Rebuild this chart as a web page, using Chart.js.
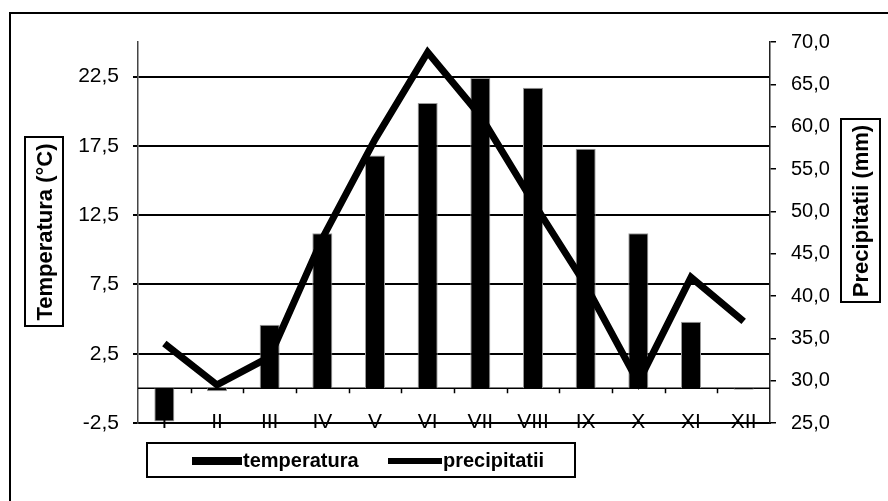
<!DOCTYPE html>
<html>
<head>
<meta charset="utf-8">
<script src="https://cdn.jsdelivr.net/npm/chart.js@4/dist/chart.umd.min.js"></script>
<style>
html,body{margin:0;padding:0;background:#fff;}
#wrap{width:888px;height:501px;position:relative;}
</style>
</head>
<body>
<div id="wrap"><canvas id="c" width="888" height="501"></canvas></div>
<script>
const categories = ['I','II','III','IV','V','VI','VII','VIII','IX','X','XI','XII'];
const temperatura = [-2.4, -0.2, 4.6, 11.2, 16.8, 20.6, 22.4, 21.7, 17.3, 11.2, 4.8, -0.1];
const precipitatii = [34.4, 29.5, 32.8, 46.8, 58.5, 68.8, 61.3, 51.1, 41.3, 29.8, 42.2, 37.0];
const tempTicks = [-2.5, 2.5, 7.5, 12.5, 17.5, 22.5];
const precTicks = [25, 30, 35, 40, 45, 50, 55, 60, 65, 70];
const seriesNames = ['temperatura', 'precipitatii'];
const axisTitles = ['Temperatura (°C)', 'Precipitatii (mm)'];

const FONT = "'Liberation Sans', Arial, sans-serif";
Chart.defaults.font.family = FONT;
Chart.defaults.color = '#000';

const fmt = v => Number(v).toFixed(1).replace('.', ',');

const decor = {
  id: 'decor',
  beforeDraw(chart) {
    const ctx = chart.ctx;
    ctx.save();
    ctx.fillStyle = '#fff';
    ctx.fillRect(0, 0, chart.width, chart.height);
    ctx.strokeStyle = '#000';
    ctx.lineWidth = 2;
    ctx.strokeRect(10, 13, 880, 500);
    ctx.restore();
  },
  beforeDatasetsDraw(chart) {
    const ctx = chart.ctx;
    const x = chart.scales.x, y = chart.scales.y;
    const y0 = y.getPixelForValue(0);
    ctx.save();
    ctx.strokeStyle = '#000';
    ctx.lineWidth = 1.5;
    ctx.beginPath();
    ctx.moveTo(x.left, y0);
    ctx.lineTo(x.right, y0);
    for (let i = 1; i < categories.length; i++) {
      const px = Math.round(x.getPixelForValue(i - 0.5)) + 0.5;
      ctx.moveTo(px, y0);
      ctx.lineTo(px, y0 + 5);
    }
    ctx.stroke();
    ctx.restore();
  },
  afterDraw(chart) {
    const ctx = chart.ctx;
    const x = chart.scales.x;
    ctx.save();
    // category labels, drawn across the bottom border as in the original
    ctx.font = "21px " + FONT;
    ctx.fillStyle = '#000';
    ctx.textAlign = 'center';
    ctx.textBaseline = 'alphabetic';
    categories.forEach((c, i) => {
      ctx.fillText(c, x.getPixelForValue(i), x.top + 5);
    });
    // axis titles
    const drawTitle = (text, cx, cy, bx, by, bw, bh) => {
      ctx.strokeStyle = '#000';
      ctx.lineWidth = 2;
      ctx.strokeRect(bx, by, bw, bh);
      ctx.save();
      ctx.translate(cx, cy);
      ctx.rotate(-Math.PI / 2);
      ctx.font = "bold 22px " + FONT;
      ctx.fillStyle = '#000';
      ctx.textAlign = 'center';
      ctx.textBaseline = 'middle';
      ctx.fillText(text, 0, 1);
      ctx.restore();
    };
    drawTitle(axisTitles[0], 45, 232, 25, 137, 38, 189);
    drawTitle(axisTitles[1], 861, 211, 841, 119, 39, 183);

    // legend
    ctx.strokeStyle = '#000';
    ctx.lineWidth = 2;
    ctx.strokeRect(147, 443, 428, 34);
    ctx.fillStyle = '#000';
    ctx.fillRect(192, 457, 50, 8);
    ctx.beginPath();
    ctx.lineWidth = 6;
    ctx.moveTo(388, 461);
    ctx.lineTo(442, 461);
    ctx.stroke();
    ctx.font = "bold 20px " + FONT;
    ctx.textAlign = 'left';
    ctx.textBaseline = 'middle';
    const barDs = chart.data.datasets.find(d => d.type === 'bar');
    const lineDs = chart.data.datasets.find(d => d.type === 'line');
    ctx.fillText(barDs.label, 243, 461);
    ctx.fillText(lineDs.label, 443, 461);
    ctx.restore();
  }
};

new Chart(document.getElementById('c'), {
  data: {
    labels: categories,
    datasets: [
      {
        type: 'line',
        label: seriesNames[1],
        data: precipitatii,
        yAxisID: 'y1',
        borderColor: '#000',
        borderWidth: 7,
        pointRadius: 0,
        tension: 0,
        borderJoinStyle: 'miter',
        order: 0
      },
      {
        type: 'bar',
        label: seriesNames[0],
        data: temperatura,
        yAxisID: 'y',
        backgroundColor: '#000',
        borderColor: '#9a9a9a',
        borderWidth: 1,
        categoryPercentage: 1,
        barPercentage: 0.38,
        order: 1
      }
    ]
  },
  plugins: [decor],
  options: {
    responsive: false,
    animation: false,
    layout: { padding: { left: 70, right: 58, top: 42, bottom: 76 } },
    plugins: { legend: { display: false }, tooltip: { enabled: false } },
    scales: {
      x: {
        position: 'bottom',
        grid: { display: false, drawTicks: false },
        border: { display: true, color: '#000', width: 2 },
        ticks: { display: false },
        afterFit(s) { s.height = 2; }
      },
      y: {
        position: 'left',
        min: -2.5,
        max: 25,
        afterBuildTicks(s) { s.ticks = tempTicks.map(v => ({ value: v })); },
        ticks: { callback: v => fmt(v), font: { size: 21 }, color: '#000', padding: 14 },
        grid: { color: '#000', lineWidth: 2, tickLength: 5, drawTicks: true },
        border: { display: true, color: '#444', width: 1.5 },
        afterFit(s) { s.width = 68; }
      },
      y1: {
        position: 'right',
        min: 25,
        max: 70,
        afterBuildTicks(s) { s.ticks = precTicks.map(v => ({ value: v })); },
        ticks: { callback: v => fmt(v), font: { size: 20 }, color: '#000', padding: 15 },
        grid: { drawOnChartArea: false, color: '#000', lineWidth: 1.5, tickLength: 6 },
        border: { display: true, color: '#222', width: 1.5 },
        afterFit(s) { s.width = 888 - 58 - 770; }
      }
    }
  }
});
</script>
</body>
</html>
